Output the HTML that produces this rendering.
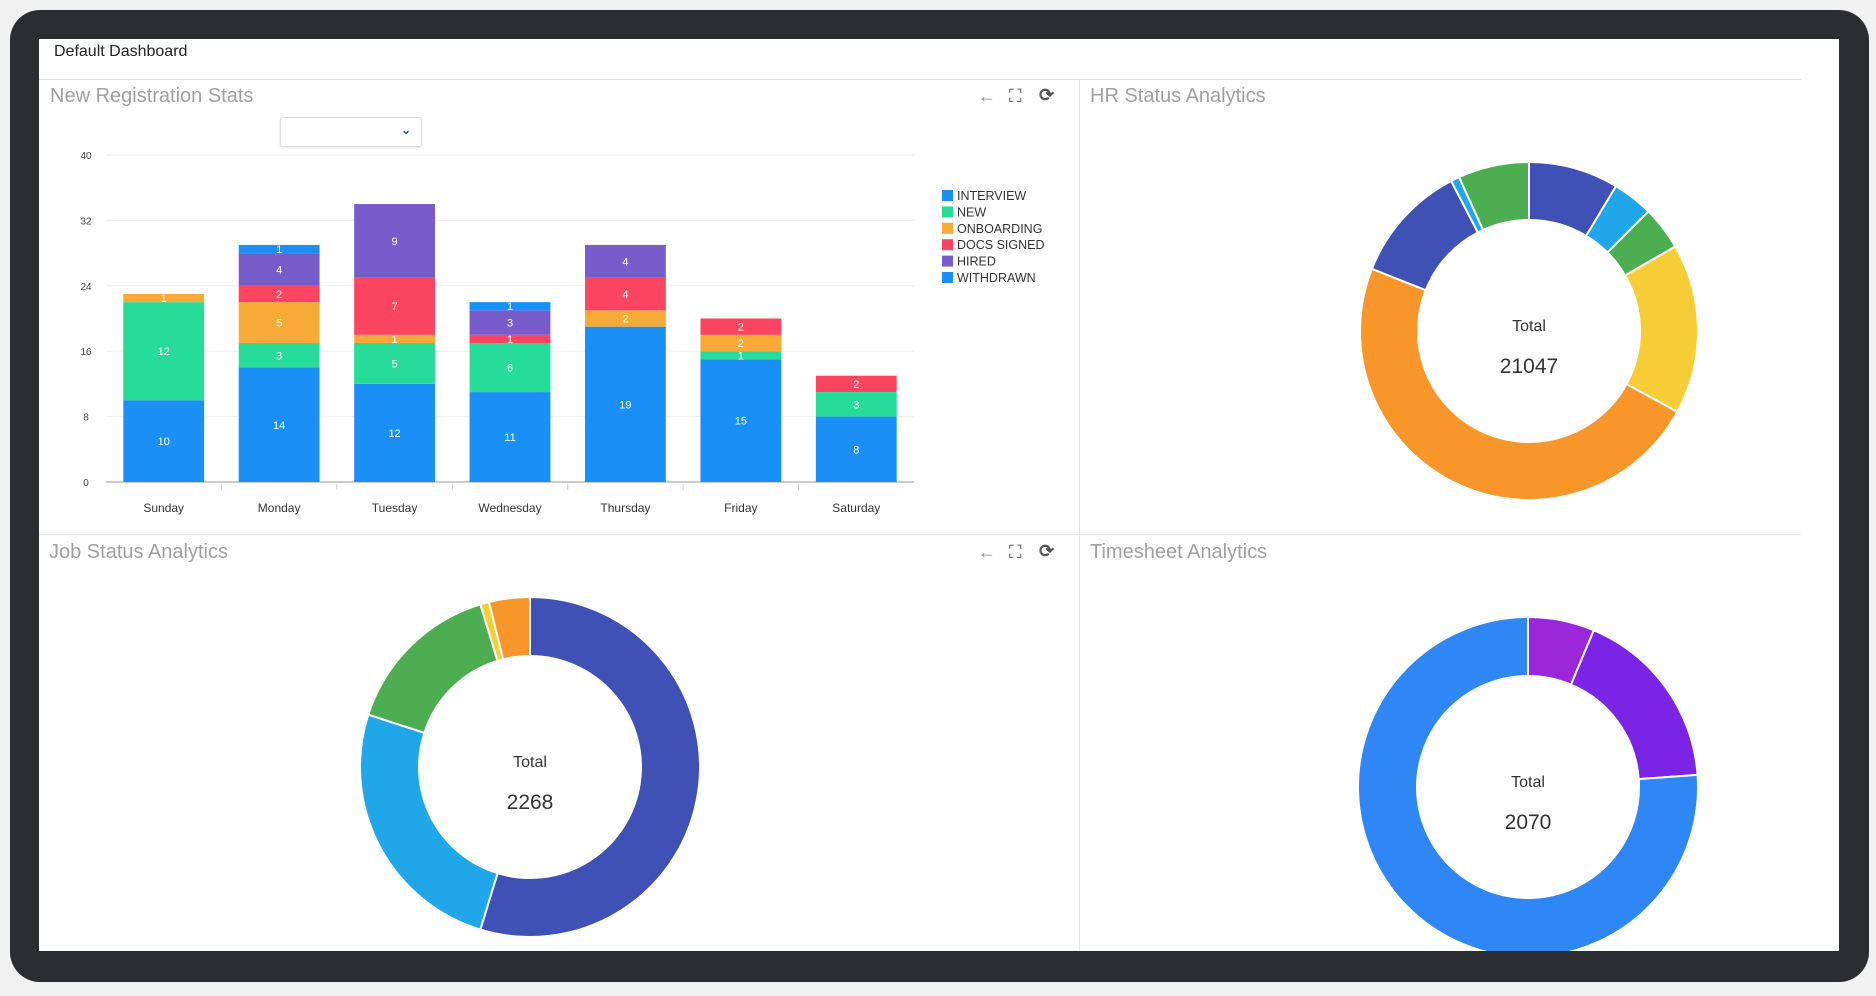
<!DOCTYPE html>
<html><head><meta charset="utf-8"><style>
html,body{margin:0;padding:0;width:1876px;height:996px;overflow:hidden;background:#f1f1f2;font-family:"Liberation Sans",sans-serif}
#frame{position:absolute;left:10px;top:10px;width:1859px;height:972px;border-radius:30px;background:#2c2d30}
#screen{position:absolute;left:39px;top:39px;width:1800px;height:912px;background:#fff;overflow:hidden}
.t{position:absolute;color:#a0a0a0;font-size:20px;white-space:nowrap}
.ic{position:absolute;color:#555;font-size:18px;line-height:18px}
</style></head><body>
<div id="frame"></div>
<div id="screen">
<div style="position:absolute;left:15px;top:4px;font-size:16px;color:#222">Default Dashboard</div>
<div style="position:absolute;left:0;top:40px;width:1762px;height:1px;background:#e2e2e2"></div>
<div style="position:absolute;left:1040px;top:41px;width:1px;height:880px;background:#e6e6e6"></div>
<div style="position:absolute;left:0;top:495px;width:1762px;height:1px;background:#e6e6e6"></div>
<div class="t" style="left:11px;top:46px">New Registration Stats</div>
<div class="t" style="left:1051px;top:46px">HR Status Analytics</div>
<div class="t" style="left:10px;top:502px">Job Status Analytics</div>
<div class="t" style="left:1051px;top:502px">Timesheet Analytics</div>
<div class="ic" style="left:939px;top:48px;color:#888">←</div>
<div class="ic" style="left:970px;top:48px">⛶</div>
<div class="ic" style="left:1000px;top:47px;font-weight:bold">⟳</div>
<div class="ic" style="left:939px;top:504px;color:#888">←</div>
<div class="ic" style="left:970px;top:504px">⛶</div>
<div class="ic" style="left:1000px;top:503px;font-weight:bold">⟳</div>
<div style="position:absolute;left:241px;top:78px;width:140px;height:28px;border:1px solid #ddd;border-radius:3px;box-shadow:0 1px 2px rgba(0,0,0,.1)"><span style="position:absolute;right:10px;top:5px;color:#2255cc;font-size:12px;font-weight:bold">⌄</span></div>
</div>
<svg id="svg" width="1876" height="996" style="position:absolute;left:0;top:0"><defs><clipPath id="cl"><rect x="39" y="39" width="1800" height="912"/></clipPath></defs></svg>
<script>
const days=["Sunday","Monday","Tuesday","Wednesday","Thursday","Friday","Saturday"];
const seriesNames=["INTERVIEW","NEW","ONBOARDING","DOCS SIGNED","HIRED","WITHDRAWN"];
const interview=[10,14,12,11,19,15,8];
const newReg=[12,3,5,6,0,1,3];
const onboarding=[1,5,1,0,2,2,0];
const docsSigned=[0,2,7,1,4,2,2];
const hired=[0,4,9,3,4,0,0];
const withdrawn=[0,1,0,1,0,0,0];
const yTicks=[0,8,16,24,32,40];
const hrValues=[1812,818,877,3426,10114,2397,175,1428];
const hrTotal="21047";
const jobValues=[1241,573,347,19,88];
const jobTotal="2268";
const tsValues=[131,363,1576];
const tsTotal="2070";

const NS="http://www.w3.org/2000/svg";
const svg=document.getElementById('svg');
function mk(tag,attrs,parent){const e=document.createElementNS(NS,tag);for(const k in attrs)e.setAttribute(k,attrs[k]);(parent||svg).appendChild(e);return e;}
const colors=["#1a8ff5","#26dc98","#f7aa35","#fb4561","#775dcc","#1a8ff5"];
const series=[interview,newReg,onboarding,docsSigned,hired,withdrawn];
const x0=106,x1=914,yB=482,yT=155,yMax=40;
const y=v=>yB-(v/yMax)*(yB-yT);
const band=(x1-x0)/days.length;
const bx=i=>x0+band*i+band*0.15;
const bw=band*0.7;
yTicks.forEach(t=>{
 const g=mk('line',{x1:x0,x2:x1,y1:y(t),y2:y(t),stroke:t===0?'#ccc':'#eee','stroke-width':t===0?2:1});
 
 const l=mk('text',{x:86,y:y(t)+4,'font-size':10,fill:'#444','text-anchor':'middle'});l.textContent=t;
 
});
days.forEach((d,i)=>{
 if(i>0){const tk=mk('line',{x1:x0+band*i,x2:x0+band*i,y1:yB+2,y2:yB+8,stroke:'#ccc'});}
 const l=mk('text',{x:x0+band*(i+0.5),y:512,'font-size':12,fill:'#333','text-anchor':'middle'});l.textContent=d;
 
 let acc=0;
 series.forEach((s,k)=>{
  const v=s[i];if(!v)return;
  const r=mk('rect',{x:bx(i),y:y(acc+v),width:bw,height:y(acc)-y(acc+v),fill:colors[k]});
  
  
  const t=mk('text',{x:bx(i)+bw/2,y:(y(acc)+y(acc+v))/2+4,'font-size':11,fill:'#fff','text-anchor':'middle'});t.textContent=v;
  
  acc+=v;
 });
});
seriesNames.forEach((n,k)=>{
 const yy=190+k*16.4;
 const r=mk('rect',{x:942,y:yy,width:11,height:11,fill:colors[k]});
 
 const t=mk('text',{x:957,y:yy+10,'font-size':12.5,fill:'#333'});t.textContent=n;
 
});
const clipG=mk('g',{'clip-path':'url(#cl)'});
function donut(cx,cy,ro,ri,vals,cols,total,name){
 const sum=vals.reduce((a,b)=>a+b,0);let a=0;
 const pt=(ang,r)=>[cx+r*Math.sin(ang),cy-r*Math.cos(ang)];
 vals.forEach((v,i)=>{
  const a2=a+v/sum*2*Math.PI;const lg=(a2-a)>Math.PI?1:0;
  const p1=pt(a,ro),p2=pt(a2,ro),p3=pt(a2,ri),p4=pt(a,ri);
  const p=mk('path',{d:`M${p1} A${ro},${ro} 0 ${lg} 1 ${p2} L${p3} A${ri},${ri} 0 ${lg} 0 ${p4} Z`,fill:cols[i],stroke:'#fff','stroke-width':2},clipG);
  
  a=a2;
 });
 const t1=mk('text',{x:cx,y:cy,'font-size':16,fill:'#333','text-anchor':'middle'},clipG);t1.textContent='Total';
 
 const t2=mk('text',{x:cx,y:cy+42,'font-size':21,fill:'#333','text-anchor':'middle'},clipG);t2.textContent=total;
 
}
donut(1529,331,169,111,hrValues,["#3f51b5","#1fa7ea","#4cae50","#f7cd37","#f9962a","#3f51b5","#1fa7ea","#4cae50"],hrTotal,'hr-donut');
donut(530,767,170,111,jobValues,["#3f51b5","#1fa7ea","#4cae50","#f7cd37","#f9962a"],jobTotal,'job-donut');
donut(1528,787,170,111,tsValues,["#9b27d8","#7b24e6","#2e87f5"],tsTotal,'timesheet-donut');
</script>
</body></html>
